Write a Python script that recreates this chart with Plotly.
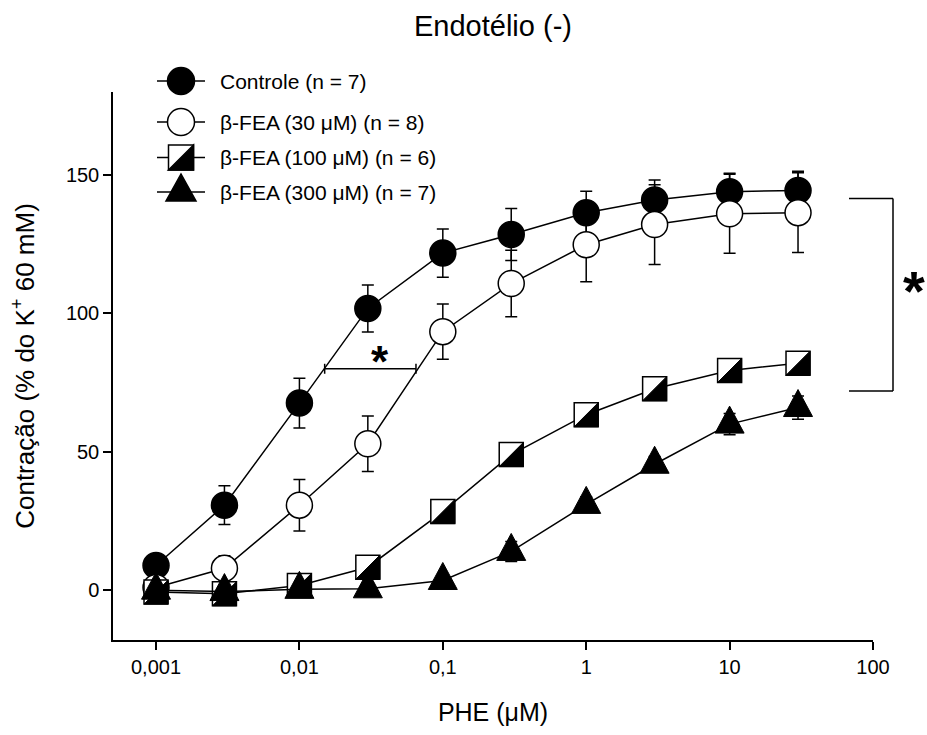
import numpy as np
import plotly.graph_objects as go

# ---------------- data ----------------
conc = [0.001, 0.003, 0.01, 0.03, 0.1, 0.3, 1, 3, 10, 30]
controle = [8.9, 30.7, 67.6, 101.8, 121.8, 128.5, 136.4, 141.0, 144.0, 144.4]
controle_sem = [2.0, 7.0, 9.0, 8.5, 8.7, 9.4, 7.7, 7.2, 6.6, 7.0]
fea30 = [1.0, 7.9, 30.7, 52.9, 93.4, 110.8, 124.8, 132.1, 136.0, 136.4]
fea30_sem = [1.5, 4.5, 9.3, 10.0, 10.0, 12.0, 13.4, 14.4, 14.3, 14.4]
fea100 = [-0.7, -1.3, 1.7, 8.3, 28.4, 49.0, 63.4, 72.8, 79.4, 82.0]
fea100_sem = [1.0, 1.0, 1.5, 2.0, 2.5, 3.0, 3.0, 3.0, 3.0, 3.0]
fea300 = [0.0, -0.5, 0.3, 0.5, 3.5, 14.0, 31.0, 45.5, 60.0, 66.0]
fea300_sem = [1.0, 1.0, 1.0, 1.0, 1.5, 3.6, 2.8, 2.8, 3.8, 4.2]

legend_labels = ["Controle (n = 7)", "β-FEA (30 μM) (n = 8)",
                 "β-FEA (100 μM) (n = 6)", "β-FEA (300 μM) (n = 7)"]
x_tickvals = [0.001, 0.01, 0.1, 1, 10, 100]
x_ticktext = ["0,001", "0,01", "0,1", "1", "10", "100"]
y_tickvals = [0, 50, 100, 150]

# EC50 shift bar (controle vs 30 uM) and significance bracket
ec50_bar_x = [0.015, 0.065]
ec50_bar_y = 80
bracket_y = [141.5, 72]

# ---------------- geometry ----------------
W, H = 927, 735
ML, MR, MT, MB = 113, 54, 92, 95
PW = W - ML - MR
PH = H - MT - MB
XR = [-3.3, 2.0]
YR = [-18, 180]
PPD = PW / (XR[1] - XR[0])   # px per decade
PPY = PH / (YR[1] - YR[0])   # px per y unit

FONT = "Liberation Sans, Arial, Helvetica, sans-serif"


def xo(x, dpx):
    return x * 10 ** (dpx / PPD)


def yo(y, dpx):
    return y + dpx / PPY


def px_x(p):
    return (p - ML) / PW


def px_y(p):
    return (H - MB - p) / PH


err = lambda arr: dict(type="data", array=arr, visible=True, color="black",
                       thickness=1.5, width=6)

fig = go.Figure()

# Controle (filled circles)
fig.add_trace(go.Scatter(
    x=conc, y=controle, mode="lines+markers", error_y=err(controle_sem),
    line=dict(color="black", width=1.5),
    marker=dict(symbol="circle", size=26, color="black",
                line=dict(color="black", width=1.5)),
    showlegend=False))

# 30 uM (open circles)
fig.add_trace(go.Scatter(
    x=conc, y=fea30, mode="lines+markers", error_y=err(fea30_sem),
    line=dict(color="black", width=1.5),
    marker=dict(symbol="circle", size=26, color="white",
                line=dict(color="black", width=1.5)),
    showlegend=False))

# 100 uM (half-filled squares)
SQ = 24
fig.add_trace(go.Scatter(
    x=conc, y=fea100, mode="lines+markers", error_y=err(fea100_sem),
    line=dict(color="black", width=1.5),
    marker=dict(symbol="square", size=SQ, color="white",
                line=dict(color="black", width=1.5)),
    showlegend=False))
R = SQ / 2
hx, hy = [], []
for x, y in zip(conc, fea100):
    hx += [xo(x, R), xo(x, R), xo(x, -R), xo(x, R), None]
    hy += [yo(y, R), yo(y, -R), yo(y, -R), yo(y, R), None]
fig.add_trace(go.Scatter(
    x=hx, y=hy, mode="lines", fill="toself", fillcolor="black",
    line=dict(color="black", width=1), hoverinfo="skip", showlegend=False))

# 300 uM (filled triangles)
fig.add_trace(go.Scatter(
    x=conc, y=fea300, mode="lines", error_y=err(fea300_sem),
    line=dict(color="black", width=1.5), showlegend=False))
TW, TUP, TDN = 14.5, 18, 9
tx, ty = [], []
for x, y in zip(conc, fea300):
    tx += [xo(x, -TW), xo(x, TW), x, xo(x, -TW), None]
    ty += [yo(y, -TDN), yo(y, -TDN), yo(y, TUP), yo(y, -TDN), None]
fig.add_trace(go.Scatter(
    x=tx, y=ty, mode="lines", fill="toself", fillcolor="black",
    line=dict(color="black", width=1), hoverinfo="skip", showlegend=False))

# EC50 shift bar
d = 5 / PPY
fig.add_trace(go.Scatter(
    x=[ec50_bar_x[0], ec50_bar_x[1], None, ec50_bar_x[0], ec50_bar_x[0], None,
       ec50_bar_x[1], ec50_bar_x[1]],
    y=[ec50_bar_y, ec50_bar_y, None, ec50_bar_y - d, ec50_bar_y + d, None,
       ec50_bar_y - d, ec50_bar_y + d],
    mode="lines", line=dict(color="black", width=1.5), hoverinfo="skip",
    showlegend=False))

shapes = []
annotations = []

# small asterisk above bar
AS1, AS2 = 44, 56
annotations.append(dict(
    x=np.log10(np.sqrt(ec50_bar_x[0] * ec50_bar_x[1])), y=ec50_bar_y,
    xref="x", yref="y", text="<b>*</b>", showarrow=False,
    xanchor="center", yanchor="middle",
    font=dict(size=AS1, color="black", family=FONT),
    xshift=10, yshift=17 - 0.21 * AS1))

# bracket on the right
bx0, bx1 = px_x(849), px_x(893)
shapes += [
    dict(type="line", xref="paper", yref="y", x0=bx0, x1=bx1,
         y0=bracket_y[0], y1=bracket_y[0], line=dict(color="black", width=1.5)),
    dict(type="line", xref="paper", yref="y", x0=bx1, x1=bx1,
         y0=bracket_y[0], y1=bracket_y[1], line=dict(color="black", width=1.5)),
    dict(type="line", xref="paper", yref="y", x0=bx0, x1=bx1,
         y0=bracket_y[1], y1=bracket_y[1], line=dict(color="black", width=1.5)),
]
annotations.append(dict(
    x=px_x(914), y=(bracket_y[0] + bracket_y[1]) / 2, xref="paper", yref="y",
    text="<b>*</b>", showarrow=False, xanchor="center", yanchor="middle",
    yshift=16 - 0.21 * AS2,
    font=dict(size=AS2, color="black", family=FONT)))

# custom legend
rows = [81, 122, 157.5, 192]
lx0, lx1, lmx, ltx = 157, 205, 181, 218
for i, (ry, lab) in enumerate(zip(rows, legend_labels)):
    yp = px_y(ry)
    xm = px_x(lmx)
    shapes.append(dict(type="line", xref="paper", yref="paper",
                       x0=px_x(lx0), x1=px_x(lx1), y0=yp, y1=yp,
                       line=dict(color="black", width=1.5)))
    base = dict(xref="paper", yref="paper", xsizemode="pixel", ysizemode="pixel",
                xanchor=xm, yanchor=yp, line=dict(color="black", width=1.5))
    if i == 0:
        shapes.append(dict(type="circle", x0=-13.5, x1=13.5, y0=-13.5, y1=13.5,
                           fillcolor="black", **base))
    elif i == 1:
        shapes.append(dict(type="circle", x0=-13.5, x1=13.5, y0=-13.5, y1=13.5,
                           fillcolor="white", **base))
    elif i == 2:
        shapes.append(dict(type="rect", x0=-12.5, x1=12.5, y0=-12.5, y1=12.5,
                           fillcolor="white", **base))
        shapes.append(dict(type="path", path="M 12.5,12.5 L 12.5,-12.5 L -12.5,-12.5 Z",
                           fillcolor="black", **base))
    else:
        shapes.append(dict(type="path", path="M -15,-9 L 15,-9 L 0,18 Z",
                           fillcolor="black", **base))
    annotations.append(dict(x=px_x(ltx), y=yp, xref="paper", yref="paper",
                            xanchor="left", yanchor="middle", text=lab,
                            showarrow=False,
                            font=dict(size=21, color="black", family=FONT)))

fig.update_layout(
    width=W, height=H,
    margin=dict(l=ML, r=MR, t=MT, b=MB, autoexpand=False),
    paper_bgcolor="white", plot_bgcolor="white",
    font=dict(family=FONT, color="black"),
    title=dict(text="Endotélio (-)", x=0.5, xref="paper", xanchor="center",
               y=1 - 26 / H, yref="container", yanchor="middle",
               font=dict(size=29, color="black", family=FONT)),
    xaxis=dict(type="log", range=XR, showline=True, linecolor="black",
               linewidth=1.5, ticks="outside", ticklen=8, tickwidth=1.5,
               tickcolor="black", tickvals=x_tickvals, ticktext=x_ticktext,
               showgrid=False, zeroline=False,
               tickfont=dict(size=20, color="black", family=FONT),
               title=dict(text="PHE (μM)", standoff=27,
                          font=dict(size=25, color="black", family=FONT))),
    yaxis=dict(range=YR, showline=True, linecolor="black", linewidth=1.5,
               ticks="outside", ticklen=8, tickwidth=1.5, tickcolor="black",
               tickvals=y_tickvals, showgrid=False, zeroline=False,
               tickfont=dict(size=20, color="black", family=FONT),
               title=dict(text="Contração (% do K<sup>+</sup> 60 mM)",
                          standoff=24,
                          font=dict(size=26, color="black", family=FONT))),
    shapes=shapes, annotations=annotations, showlegend=False,
)

fig.write_html("out.html")
